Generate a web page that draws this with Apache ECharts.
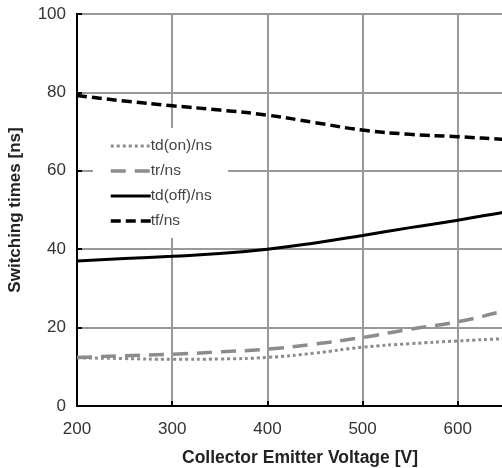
<!DOCTYPE html>
<html>
<head>
<meta charset="utf-8">
<script src="https://cdn.jsdelivr.net/npm/echarts@6/dist/echarts.min.js"></script>
<style>
  html, body { margin: 0; padding: 0; background: #fff; overflow: hidden; width: 502px; height: 468px; }
  #chart { width: 560px; height: 468px; }
</style>
</head>
<body>
<div id="chart"></div>
<script>
// Collector-emitter voltage [V]
const voltage = [200, 250, 300, 350, 400, 450, 500, 550, 600, 650, 700];
// Switching times [ns]
const tdOn  = [12.3, 12.1, 11.9, 12.0, 12.4, 13.5, 15.0, 15.9, 16.6, 17.2, 17.8];
const tr    = [12.4, 12.8, 13.2, 13.8, 14.5, 15.8, 17.5, 19.6, 21.5, 24.3, 27.0];
const tdOff = [37.0, 37.6, 38.2, 38.9, 40.0, 41.6, 43.5, 45.5, 47.4, 49.5, 51.5];
const tf    = [79.2, 77.8, 76.6, 75.5, 74.2, 72.3, 70.4, 69.3, 68.7, 68.0, 67.5];
const seriesNames = ['td(on)/ns', 'tr/ns', 'td(off)/ns', 'tf/ns'];
const xTicks = [200, 300, 400, 500, 600, 700];
const yTicks = [0, 20, 40, 60, 80, 100];

const pairs = arr => voltage.map((v, i) => [v, arr[i]]);
const FONT = '"Liberation Sans", Arial, sans-serif';

const chart = echarts.init(document.getElementById('chart'), null, { renderer: 'canvas', width: 560, height: 468 });

function lineSeries(name, data, color, width, dash) {
  return {
    name: name,
    type: 'line',
    data: pairs(data),
    smooth: true,
    symbol: 'none',
    lineStyle: { color: color, width: width, type: dash, cap: 'butt' },
    itemStyle: { color: color }
  };
}

chart.setOption({
  backgroundColor: '#fff',
  animation: false,
  title: {
    text: 'Collector Emitter Voltage [V]',
    left: 295,
    top: 444,
    textAlign: 'center',
    textStyle: { fontFamily: FONT, fontSize: 17.5, fontWeight: 'bold', color: '#222' }
  },
  grid: {
    left: 77, top: 14, width: 476, bottom: 62,
    outerBoundsMode: 'none',
    show: true, borderColor: '#000', borderWidth: 2, backgroundColor: '#fff'
  },
  legend: {
    orient: 'vertical',
    left: 93, top: 128,
    width: 142,
    padding: [10, 16, 9, 16],
    backgroundColor: '#fff',
    itemWidth: 40,
    itemHeight: 14,
    itemGap: 9,
    // hide the marker on the legend sample, keep only the line
    itemStyle: { opacity: 0 },
    lineStyle: { width: 'inherit' },
    textStyle: { fontFamily: FONT, fontSize: 15.5, color: '#444', padding: [0, 0, 0, -5] },
    data: seriesNames
  },
  xAxis: {
    type: 'value',
    min: xTicks[0],
    max: xTicks[xTicks.length - 1],
    interval: 100,
    axisLine: { show: true, lineStyle: { color: '#000', width: 2 } },
    axisTick: { show: true, inside: true, length: 5, lineStyle: { color: '#000', width: 2 } },
    axisLabel: { fontFamily: FONT, fontSize: 17, color: '#333', margin: 15 },
    splitLine: { show: true, lineStyle: { color: '#999', width: 2 } }
  },
  yAxis: {
    type: 'value',
    min: yTicks[0],
    max: yTicks[yTicks.length - 1],
    interval: 20,
    name: 'Switching times [ns]',
    nameLocation: 'middle',
    nameGap: 53,
    nameTextStyle: { fontFamily: FONT, fontSize: 17, fontWeight: 'bold', color: '#222' },
    axisLine: { show: true, lineStyle: { color: '#000', width: 2 } },
    axisTick: { show: true, inside: true, length: 5, lineStyle: { color: '#000', width: 2 } },
    axisLabel: { fontFamily: FONT, fontSize: 17, color: '#333', margin: 11 },
    splitLine: { show: true, lineStyle: { color: '#999', width: 2 } }
  },
  series: [
    lineSeries(seriesNames[0], tdOn, '#8c8c8c', 3, [3, 3]),
    lineSeries(seriesNames[1], tr, '#8c8c8c', 3.5, [15, 9]),
    lineSeries(seriesNames[2], tdOff, '#000', 3, 'solid'),
    lineSeries(seriesNames[3], tf, '#000', 3.5, [10, 5])
  ]
});
</script>
</body>
</html>
